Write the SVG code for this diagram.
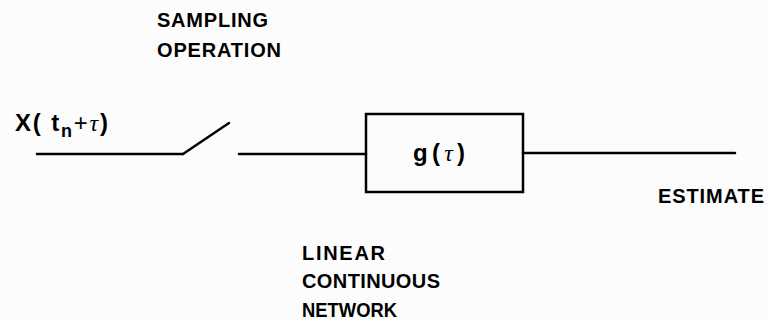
<svg xmlns="http://www.w3.org/2000/svg" width="768" height="320" viewBox="0 0 768 320">
<style>
.lbl{font-family:"Liberation Sans",Arial,sans-serif;font-weight:bold;font-size:20px;fill:#000}
.big{font-size:24px}
.ln{stroke:#000;stroke-width:2.5;fill:none;stroke-linecap:round}
.tau{font-family:"Liberation Serif",serif;font-style:italic;font-weight:normal}
</style>
<rect width="768" height="320" fill="#fcfcfc"/>
<g id="sampling-label">
<text class="lbl" x="157" y="27" textLength="111" lengthAdjust="spacing">SAMPLING</text>
<text class="lbl" x="157" y="57" textLength="124" lengthAdjust="spacing">OPERATION</text>
</g>
<g id="input-label">
<text class="lbl big" x="15" y="131" textLength="93" lengthAdjust="spacing">X( t<tspan style="font-size:18px" dy="6">n</tspan><tspan dy="-6" style="font-weight:normal">+</tspan><tspan class="tau">τ</tspan>)</text>
</g>
<g id="switch">
<line class="ln" x1="183" y1="154" x2="229" y2="123"/>
</g>
<g id="network">
<rect x="366" y="114" width="157" height="78" fill="none" stroke="#000" stroke-width="2.5"/>
<text class="lbl big" x="413" y="161" textLength="52" lengthAdjust="spacing">g(<tspan class="tau">τ</tspan>)</text>
</g>
<g id="network-label">
<text class="lbl" x="302" y="260" textLength="83" lengthAdjust="spacing">LINEAR</text>
<text class="lbl" x="302" y="288" textLength="138" lengthAdjust="spacing">CONTINUOUS</text>
<text class="lbl" x="302" y="317" textLength="95" lengthAdjust="spacingAndGlyphs">NETWORK</text>
</g>
<g id="estimate-label">
<text class="lbl" x="658" y="203" textLength="106" lengthAdjust="spacing">ESTIMATE</text>
</g>
<g id="connectors">
<line class="ln" x1="37" y1="154" x2="183" y2="154"/>
<line class="ln" x1="239" y1="154" x2="366" y2="154"/>
<line class="ln" x1="523" y1="153" x2="735" y2="153"/>
</g>
</svg>
